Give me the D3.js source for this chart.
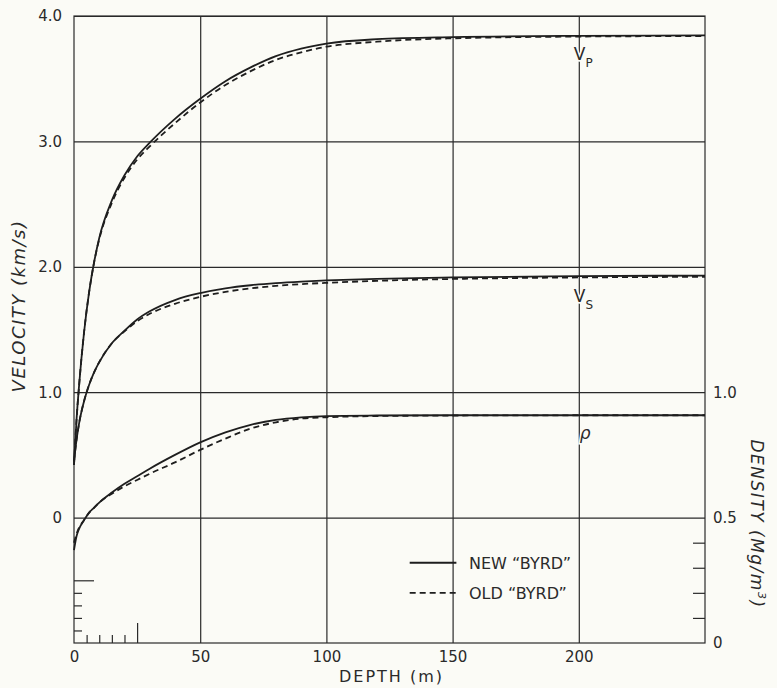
<!doctype html>
<html>
<head>
<meta charset="utf-8">
<script src="https://cdn.jsdelivr.net/npm/d3@7"></script>
<style>
  body { margin: 0; background: #fbfbf6; }
  svg { display: block; }
  text { font-family: "DejaVu Sans", sans-serif; fill: #2a2a2a; }
  .tick text { font-size: 15px; }
  .grid line, .frame { stroke: #2a2a2a; stroke-width: 1.2; }
</style>
</head>
<body>
<svg id="chart"></svg>
<script>
// depth (m) sampled along the curves
const depth = [0, 1, 2, 4, 6, 8, 10, 15, 20, 25, 30, 40, 50, 60, 70, 80, 90, 100, 120, 150, 200, 250]

// velocities in km/s
const vpNew = [0.42, 0.78, 1.05, 1.48, 1.8, 2.04, 2.23, 2.53, 2.73, 2.88, 2.99, 3.18, 3.34, 3.48, 3.59, 3.68, 3.74, 3.78, 3.815, 3.832, 3.842, 3.845]
const vpOld = [0.42, 0.78, 1.05, 1.48, 1.8, 2.04, 2.22, 2.51, 2.71, 2.855, 2.96, 3.145, 3.31, 3.45, 3.56, 3.65, 3.71, 3.755, 3.795, 3.822, 3.836, 3.84]
const vsNew = [0.45, 0.62, 0.75, 0.93, 1.06, 1.16, 1.24, 1.39, 1.49, 1.58, 1.645, 1.735, 1.79, 1.828, 1.853, 1.87, 1.882, 1.891, 1.904, 1.915, 1.925, 1.93]
const vsOld = [0.45, 0.62, 0.75, 0.93, 1.06, 1.16, 1.24, 1.39, 1.485, 1.565, 1.625, 1.705, 1.76, 1.8, 1.828, 1.848, 1.862, 1.872, 1.888, 1.903, 1.915, 1.92]

// density in Mg/m^3
const rhoNew = [0.37, 0.425, 0.455, 0.49, 0.52, 0.54, 0.56, 0.6, 0.635, 0.665, 0.695, 0.75, 0.8, 0.84, 0.87, 0.89, 0.9, 0.905, 0.907, 0.908, 0.908, 0.908]
const rhoOld = [0.4, 0.435, 0.46, 0.49, 0.52, 0.54, 0.56, 0.595, 0.625, 0.65, 0.675, 0.72, 0.77, 0.815, 0.855, 0.88, 0.895, 0.9, 0.905, 0.907, 0.908, 0.908]

const xTicks = [0, 50, 100, 150, 200]
const vTicks = [0, 1, 2, 3, 4]
const rhoTicks = [0, 0.5, 1.0]

const W = 777, H = 688
const mLeft = 74, mTop = 16, mRight = 705, mBottom = 643

const svg = d3.select("#chart").attr("width", W).attr("height", H)

const x = d3.scaleLinear().domain([0, 250]).range([mLeft, mRight])
const yV = d3.scaleLinear().domain([-1, 4]).range([mBottom, mTop])
const yR = d3.scaleLinear().domain([0, 2.5]).range([mBottom, mTop])

// grid
svg.append("g").attr("class", "grid")
  .attr("transform", "translate(0," + mBottom + ")")
  .call(d3.axisBottom(x).tickValues([50, 100, 150, 200]).tickSize(-(mBottom - mTop)).tickFormat(""))
  .call(g => g.select(".domain").remove())
svg.append("g").attr("class", "grid")
  .attr("transform", "translate(" + mLeft + ",0)")
  .call(d3.axisLeft(yV).tickValues(vTicks).tickSize(-(mRight - mLeft)).tickFormat(""))
  .call(g => g.select(".domain").remove())

svg.append("rect").attr("class", "frame")
  .attr("x", mLeft).attr("y", mTop)
  .attr("width", mRight - mLeft).attr("height", mBottom - mTop)
  .attr("fill", "none")

// axis labels
svg.append("g")
  .attr("transform", "translate(" + mLeft + ",0)")
  .call(d3.axisLeft(yV).tickValues(vTicks).tickSize(0).tickPadding(12)
    .tickFormat(d => d === 0 ? "0" : d3.format(".1f")(d)))
  .call(g => g.select(".domain").remove())

svg.append("g")
  .attr("transform", "translate(0," + mBottom + ")")
  .call(d3.axisBottom(x).tickValues(xTicks).tickSize(0).tickPadding(8))
  .call(g => g.select(".domain").remove())

svg.append("g")
  .attr("transform", "translate(" + mRight + ",0)")
  .call(d3.axisRight(yR).tickValues(rhoTicks).tickSize(0).tickPadding(8)
    .tickFormat(d => d === 0 ? "0" : d3.format(".1f")(d)))
  .call(g => g.select(".domain").remove())

// little inner ticks
const tickStyle = g => {
  g.select(".domain").remove()
  g.selectAll("line").attr("stroke", "#2a2a2a").attr("stroke-width", 1.2)
}
svg.append("g").attr("transform", "translate(" + mLeft + ",0)")
  .call(d3.axisRight(yV).tickValues([-0.9, -0.8, -0.7, -0.6]).tickSize(8).tickFormat(""))
  .call(tickStyle)
svg.append("g").attr("transform", "translate(" + mLeft + ",0)")
  .call(d3.axisRight(yV).tickValues([-0.5]).tickSize(20).tickFormat(""))
  .call(tickStyle)
svg.append("g").attr("transform", "translate(0," + mBottom + ")")
  .call(d3.axisTop(x).tickValues([5, 10, 15, 20]).tickSize(8).tickFormat(""))
  .call(tickStyle)
svg.append("g").attr("transform", "translate(0," + mBottom + ")")
  .call(d3.axisTop(x).tickValues([25]).tickSize(20).tickFormat(""))
  .call(tickStyle)
svg.append("g").attr("transform", "translate(" + mRight + ",0)")
  .call(d3.axisLeft(yR).tickValues([0.1, 0.2, 0.3, 0.4]).tickSize(12).tickFormat(""))
  .call(tickStyle)

// curves
const lineV = d3.line().x((d, i) => x(depth[i])).y(d => yV(d)).curve(d3.curveMonotoneX)
const lineR = d3.line().x((d, i) => x(depth[i])).y(d => yR(d)).curve(d3.curveMonotoneX)

const curves = [
  { data: vpOld, gen: lineV, dash: "6,4" },
  { data: vsOld, gen: lineV, dash: "6,4" },
  { data: rhoOld, gen: lineR, dash: "6,4" },
  { data: vpNew, gen: lineV, dash: null },
  { data: vsNew, gen: lineV, dash: null },
  { data: rhoNew, gen: lineR, dash: null }
]
curves.forEach(c => {
  svg.append("path")
    .attr("d", c.gen(c.data))
    .attr("fill", "none")
    .attr("stroke", "#1e1e1e")
    .attr("stroke-width", 1.8)
    .attr("stroke-dasharray", c.dash)
})

// curve labels
function curveLabel(main, sub, px, py, italic) {
  const t = svg.append("text")
    .attr("x", px).attr("y", py)
    .attr("font-size", 17)
    .style("paint-order", "stroke")
    .style("stroke", "#fbfbf6").style("stroke-width", 3)
  t.append("tspan").text(main).attr("font-style", italic ? "italic" : null)
  if (sub) t.append("tspan").text(sub).attr("font-size", 12).attr("dy", 7)
}
curveLabel("V", "P", x(200) - 5, yV(3.65), false)
curveLabel("V", "S", x(200) - 5, yV(1.72), false)
curveLabel("ρ", null, x(200) + 1, yV(0.63), true)

// legend
const legend = svg.append("g")
const legendItems = [
  { label: "NEW \u201CBYRD\u201D", dash: null, v: -0.36 },
  { label: "OLD \u201CBYRD\u201D", dash: "6,4", v: -0.6 }
]
legendItems.forEach(d => {
  const yy = yV(d.v)
  legend.append("line")
    .attr("x1", x(133)).attr("x2", x(151.5))
    .attr("y1", yy).attr("y2", yy)
    .attr("stroke", "#1e1e1e").attr("stroke-width", 1.8)
    .attr("stroke-dasharray", d.dash)
  legend.append("text")
    .attr("x", x(156.5)).attr("y", yy).attr("dy", "0.36em")
    .attr("font-size", 16)
    .attr("font-family", "'DejaVu Sans Condensed', 'Liberation Sans Narrow', sans-serif")
    .text(d.label)
})

// axis titles
svg.append("text")
  .attr("transform", "translate(25,306) rotate(-90)")
  .attr("text-anchor", "middle")
  .attr("font-size", 18).attr("font-style", "italic")
  .attr("letter-spacing", 1.5)
  .text("VELOCITY (km/s)")

svg.append("text")
  .attr("x", (mLeft + mRight) / 2 + 2).attr("y", 682)
  .attr("text-anchor", "middle")
  .attr("font-size", 16).attr("letter-spacing", 2)
  .text("DEPTH (m)")

const dens = svg.append("text")
  .attr("transform", "translate(751,524) rotate(90)")
  .attr("text-anchor", "middle")
  .attr("font-size", 17).attr("font-style", "italic")
  .attr("letter-spacing", 1.5)
dens.append("tspan").text("DENSITY (Mg/m")
dens.append("tspan").text("3").attr("font-size", 11).attr("dy", -7)
dens.append("tspan").text(")").attr("dy", 7)
</script>
</body>
</html>
